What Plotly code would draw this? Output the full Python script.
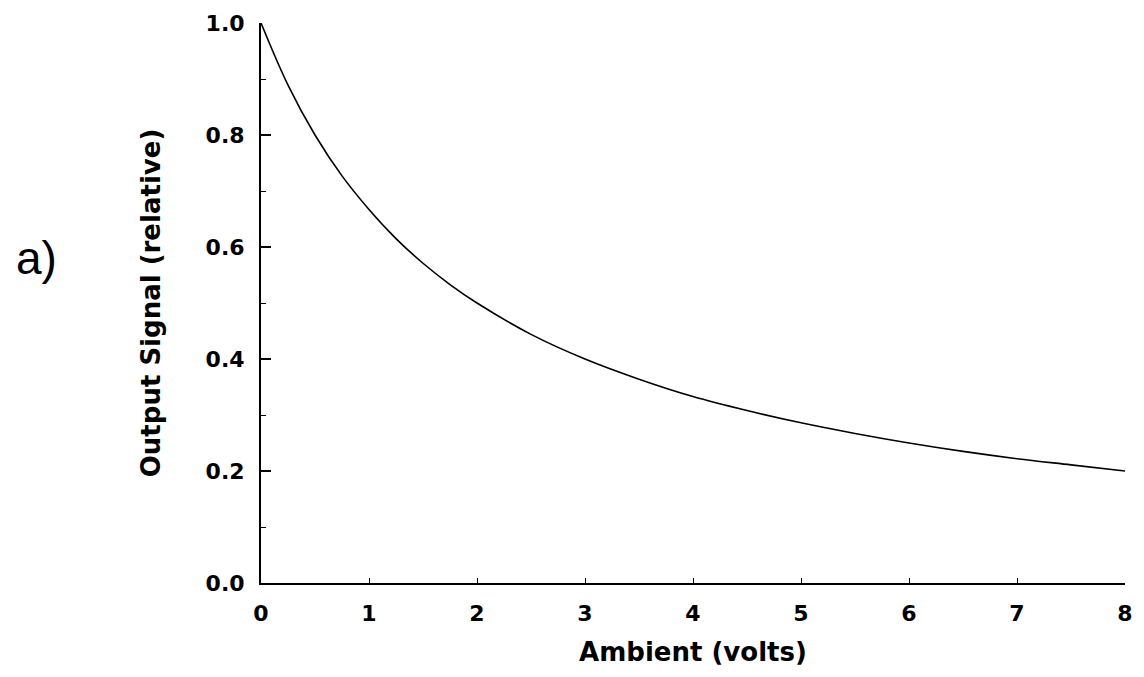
import plotly.graph_objects as go

# Ambient voltage (V) and relative output signal
ambient_volts = [0, 0.25, 0.5, 0.75, 1.0, 1.25, 1.5, 1.75, 2.0, 2.5, 3.0, 3.5,
                 4.0, 4.5, 5.0, 5.5, 6.0, 6.5, 7.0, 7.5, 8.0]
output_signal = [1.000, 0.889, 0.800, 0.727, 0.667, 0.615, 0.571, 0.533, 0.500, 0.444,
                 0.400, 0.364, 0.333, 0.308, 0.286, 0.267, 0.250, 0.235, 0.222, 0.211, 0.200]

x_ticks = [0, 1, 2, 3, 4, 5, 6, 7, 8]
y_ticks = [0.0, 0.2, 0.4, 0.6, 0.8, 1.0]
y_tick_text = ["0.0", "0.2", "0.4", "0.6", "0.8", "1.0"]

BOLD_FONT = "DejaVu Sans, Liberation Sans, Arial, sans-serif"
PANEL_FONT = "Liberation Sans, Arial, Helvetica, sans-serif"

fig = go.Figure()
fig.add_trace(go.Scatter(
    x=ambient_volts, y=output_signal, mode="lines",
    line=dict(color="black", width=1.6, shape="spline", smoothing=1.0),
    showlegend=False, hoverinfo="skip",
))

fig.update_layout(
    width=1144, height=677,
    margin=dict(l=261, r=11, t=23, b=94),
    paper_bgcolor="white", plot_bgcolor="white",
    font=dict(family=BOLD_FONT, color="black"),
    xaxis=dict(
        range=[0, 8], tickvals=x_ticks, ticktext=[str(v) for v in x_ticks],
        ticks="inside", ticklen=5, tickwidth=1.2, tickcolor="black",
        showline=True, linecolor="black", linewidth=2,
        showgrid=False, zeroline=False,
        tickfont=dict(family=BOLD_FONT, size=22, color="black", weight="bold"),
        ticklabelstandoff=10,
        title=dict(text="<b>Ambient (volts)</b>",
                   font=dict(family=BOLD_FONT, size=26), standoff=17),
    ),
    yaxis=dict(
        range=[0, 1.0], tickvals=y_ticks, ticktext=y_tick_text,
        ticks="inside", ticklen=10, tickwidth=1.5, tickcolor="black",
        showline=True, linecolor="black", linewidth=2,
        showgrid=False, zeroline=False,
        tickfont=dict(family=BOLD_FONT, size=22, color="black", weight="bold"),
        ticklabelstandoff=10,
        minor=dict(dtick=0.1, ticks="inside", ticklen=5, tickwidth=1.2,
                   tickcolor="black", showgrid=False),
        title=dict(text="<b>Output Signal (relative)</b>",
                   font=dict(family=BOLD_FONT, size=26), standoff=38),
    ),
)

fig.add_annotation(
    text="a)", xref="paper", yref="paper", x=-0.286, y=0.58,
    xanchor="left", yanchor="middle", showarrow=False,
    font=dict(family=PANEL_FONT, size=46, color="black"),
)

fig.write_html("out.html")
